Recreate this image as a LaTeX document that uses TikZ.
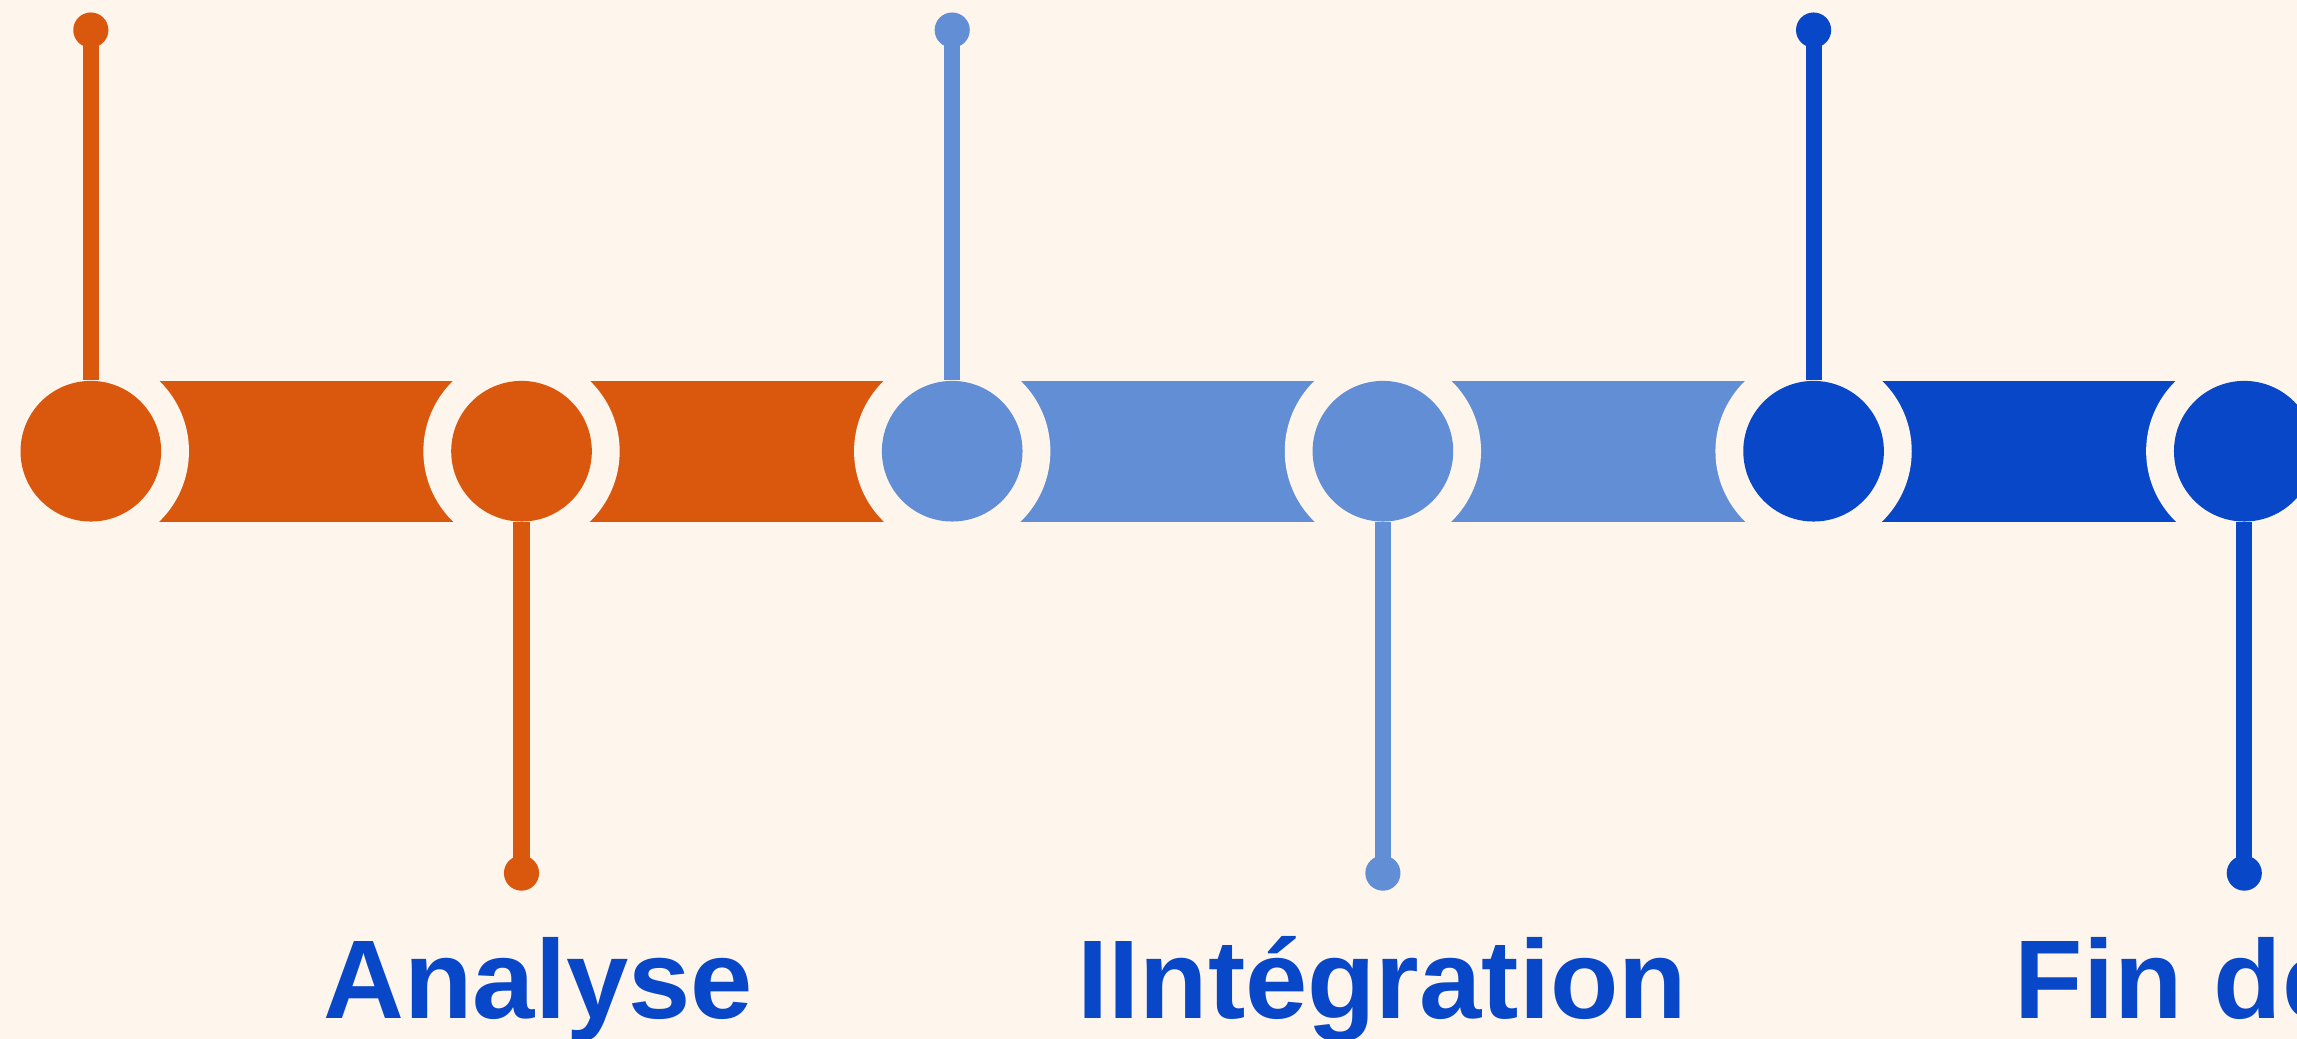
\documentclass[tikz,border=0pt]{standalone}
\usepackage{fontspec}
\setmainfont{Liberation Sans}
\definecolor{bg}{RGB}{254,245,236}
\definecolor{orng}{RGB}{218,87,14}
\definecolor{lblue}{RGB}{97,142,212}
\definecolor{dblue}{RGB}{8,71,200}
\tikzset{
  bigdot/.style={circle, fill=#1, draw=none, minimum size=48pt, inner sep=0pt},
  tipdot/.style={circle, fill=#1, draw=none, minimum size=12pt, inner sep=0pt},
  stem/.style={draw=#1, line width=5.5pt},
  bar/.style={fill=#1, draw=none},
  ring/.style={fill=bg, draw=none},
  lbl/.style={text=dblue, font=\fontsize{38.2pt}{40pt}\selectfont\bfseries, inner sep=0pt, anchor=base}
}
\begin{document}
\begin{tikzpicture}[x=0.5pt,y=-0.5pt]
\useasboundingbox (0,0) rectangle (1568,709);
\fill[bg] (0,0) rectangle (1568,709);
% bars
\fill[bar=orng]  (62,260) rectangle (356,356);
\fill[bar=orng]  (356,260) rectangle (650,356);
\fill[bar=lblue] (650,260) rectangle (944,356);
\fill[bar=lblue] (944,260) rectangle (1238,356);
\fill[bar=dblue] (1238,260) rectangle (1532,356);
% gaps around the circles
\foreach \cx in {62,356,650,944,1238,1532} {
  \fill[ring] (\cx,308) circle[radius=67];
}
% circles
\node[bigdot=orng]  (c1) at (62,308) {};
\node[bigdot=orng]  (c2) at (356,308) {};
\node[bigdot=lblue] (c3) at (650,308) {};
\node[bigdot=lblue] (c4) at (944,308) {};
\node[bigdot=dblue] (c5) at (1238,308) {};
\node[bigdot=dblue] (c6) at (1532,308) {};
% tip dots
\node[tipdot=orng]  (d1) at (62,20.5) {};
\node[tipdot=orng]  (d2) at (356,596) {};
\node[tipdot=lblue] (d3) at (650,20.5) {};
\node[tipdot=lblue] (d4) at (944,596) {};
\node[tipdot=dblue] (d5) at (1238,20.5) {};
\node[tipdot=dblue] (d6) at (1532,596) {};
% stems
\draw[stem=orng]  (d1.center) -- (c1.north);
\draw[stem=orng]  (d2.center) -- (c2.south);
\draw[stem=lblue] (d3.center) -- (c3.north);
\draw[stem=lblue] (d4.center) -- (c4.south);
\draw[stem=dblue] (d5.center) -- (c5.north);
\draw[stem=dblue] (d6.center) -- (c6.south);
% labels
\node[lbl] (t2) at (367.5,695) {Analyse};
\node[lbl] (t4) at (943.5,695) {IIntégration};
\node[lbl, anchor=base west] (t6) at (1375,695) {Fin de};
\end{tikzpicture}
\end{document}
